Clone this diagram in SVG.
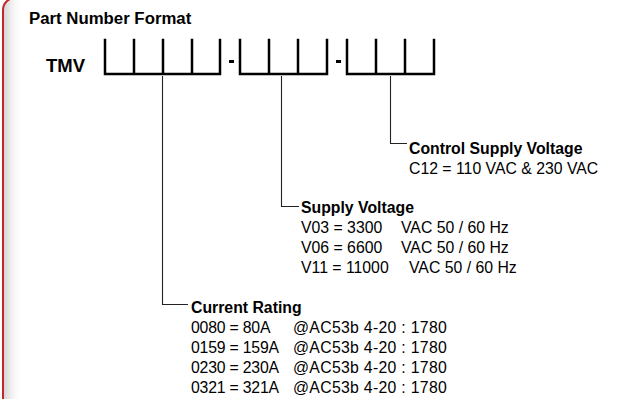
<svg xmlns="http://www.w3.org/2000/svg" width="626" height="399" viewBox="0 0 626 399">
<defs>
<style>
text{font-family:"Liberation Sans",Arial,Helvetica,sans-serif;fill:#000}
.t{font-size:16.8px;font-weight:bold}
.h{font-size:15.8px;font-weight:bold}
.v{font-size:15.8px}
.n{letter-spacing:-0.2px}
.w{letter-spacing:0.3px}
.box{fill:none;stroke:#000;stroke-width:2.5;stroke-linecap:square}
.con{fill:none;stroke:#222;stroke-width:1.1}
</style>
<linearGradient id="sh" x1="0" y1="0" x2="1" y2="0">
<stop offset="0" stop-color="#cfcfcf"/>
<stop offset="1" stop-color="#ffffff" stop-opacity="0"/>
</linearGradient>
<clipPath id="cp"><rect x="3" y="-2" width="700" height="500" rx="12"/></clipPath>
</defs>
<rect width="626" height="399" fill="#fff"/>
<g id="frame">
<rect x="3" y="-2" width="700" height="500" rx="12" fill="#fff"/>
<rect x="3" y="-2" width="20" height="500" fill="url(#sh)" clip-path="url(#cp)"/>
<rect x="3" y="-2" width="700" height="500" rx="12" fill="none" stroke="#c4262e" stroke-width="2"/>
</g>
<g id="title"><text class="t" x="29" y="24">Part Number Format</text></g>
<g id="format">
<text x="46" y="72" style="font-size:18.5px;font-weight:bold">TMV</text>
<path class="box" d="M105,40 V74 H220 V40 M134,40 V74 M163,40 V74 M192,40 V74"/>
<rect x="229" y="60" width="5" height="3" fill="#000"/>
<path class="box" d="M240,40 V74 H327 V40 M269,40 V74 M298,40 V74"/>
<rect x="336" y="60" width="5" height="3" fill="#000"/>
<path class="box" d="M347,40 V74 H434 V40 M376,40 V74 M405,40 V74"/>
</g>
<g id="connectors">
<path class="con" d="M162.5,76 V304.5 H188"/>
<path class="con" d="M281.5,76 V206.5 H299"/>
<path class="con" d="M390.5,76 V143.5 H407"/>
</g>
<g id="control">
<text class="h" x="409" y="154">Control Supply Voltage</text>
<text class="v" x="409" y="174">C12 = 110 VAC &amp; 230 VAC</text>
</g>
<g id="supply">
<text class="h" x="301" y="213">Supply Voltage</text>
<text class="v" x="301" y="233">V03 = 3300<tspan x="401">VAC 50 / 60 Hz</tspan></text>
<text class="v" x="301" y="253">V06 = 6600<tspan x="401">VAC 50 / 60 Hz</tspan></text>
<text class="v" x="301" y="273">V11 = 11000<tspan x="409">VAC 50 / 60 Hz</tspan></text>
</g>
<g id="current">
<text class="h" x="191" y="313">Current Rating</text>
<text class="v" x="191" y="333"><tspan class="n">0080 = 80A</tspan><tspan class="w" x="293">@AC53b 4-20 : 1780</tspan></text>
<text class="v" x="191" y="353"><tspan class="n">0159 = 159A</tspan><tspan class="w" x="293">@AC53b 4-20 : 1780</tspan></text>
<text class="v" x="191" y="373"><tspan class="n">0230 = 230A</tspan><tspan class="w" x="293">@AC53b 4-20 : 1780</tspan></text>
<text class="v" x="191" y="393"><tspan class="n">0321 = 321A</tspan><tspan class="w" x="293">@AC53b 4-20 : 1780</tspan></text>
</g>
</svg>
